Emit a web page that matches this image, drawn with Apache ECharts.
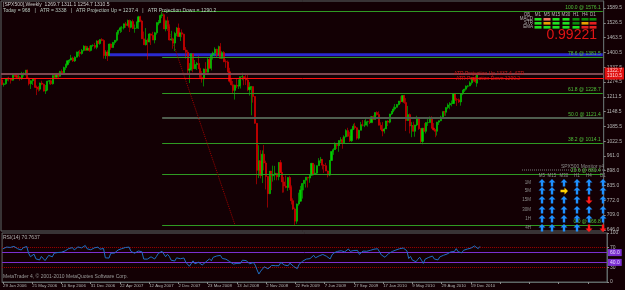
<!DOCTYPE html>
<html><head><meta charset="utf-8">
<script src="https://cdn.jsdelivr.net/npm/echarts@6/dist/echarts.min.js"></script>
<style>html,body{margin:0;padding:0;background:#130004;}#c{width:625px;height:290px;}</style>
</head><body><div id="c"></div><script>
// weekly bars [open, high, low, close]
const ohlc2006 = [[1283.7,1287,1261,1264],[1264,1272,1255,1267],[1267,1289,1263,1287],[1287,1293,1280,1290],[1290,1297,1277,1287],[1287,1289,1268,1282],[1282,1310,1280,1307],[1307,1310,1295,1302],[1302,1307,1291,1295],[1295,1310,1292,1295],[1295,1300,1280,1289],[1289,1318,1284,1311],[1311,1316,1298,1311],[1311,1326,1302,1325],[1325,1327,1291,1291],[1291,1294,1260,1267],[1267,1282,1245,1280],[1280,1290,1262,1288],[1288,1290,1250,1253],[1253,1260,1219,1251],[1251,1258,1234,1244],[1244,1272,1237,1270],[1270,1280,1261,1265],[1265,1268,1234,1236],[1236,1262,1224,1240],[1240,1280,1239,1278],[1278,1283,1265,1280],[1280,1285,1262,1267],[1267,1303,1264,1302],[1302,1306,1290,1295],[1295,1312,1294,1311],[1311,1314,1292,1299],[1299,1322,1297,1319],[1319,1328,1307,1314],[1314,1340,1314,1336],[1336,1353,1326,1349],[1349,1366,1344,1365],[1365,1372,1356,1368],[1368,1390,1366,1377],[1377,1382,1360,1364],[1364,1384,1360,1380],[1380,1404,1379,1401],[1401,1407,1384,1401],[1401,1411,1380,1396],[1396,1415,1391,1409],[1409,1431,1405,1427],[1427,1429,1407,1410],[1410,1427,1409,1418]];
const ohlc2007 = [[1418,1429,1403,1409],[1409,1431,1405,1430],[1430,1435,1424,1430],[1430,1441,1416,1422],[1422,1452,1414,1449],[1449,1453,1437,1438],[1438,1456,1433,1455],[1455,1461,1448,1451],[1451,1456,1374,1387],[1387,1410,1373,1402],[1402,1410,1364,1386],[1386,1438,1386,1436],[1436,1438,1412,1421],[1421,1445,1420,1443],[1443,1453,1433,1452],[1452,1485,1446,1485],[1485,1498,1476,1494],[1494,1510,1483,1505],[1505,1513,1487,1505],[1505,1523,1498,1522],[1522,1530,1505,1515],[1515,1540,1512,1536],[1536,1540,1487,1507],[1507,1538,1503,1532],[1532,1540,1500,1502],[1502,1519,1484,1503],[1503,1532,1503,1530],[1530,1556,1500,1552],[1552,1556,1529,1534],[1534,1539,1458,1458],[1458,1489,1432,1433],[1433,1504,1430,1453],[1453,1460,1370,1445],[1445,1482,1443,1479],[1479,1481,1432,1473],[1473,1488,1453,1453],[1453,1488,1439,1484],[1484,1530,1476,1525],[1525,1538,1516,1527],[1527,1561,1527,1557],[1557,1576,1546,1561],[1561,1563,1500,1500],[1500,1536,1490,1535],[1535,1552,1492,1509],[1509,1520,1451,1453],[1453,1492,1450,1458],[1458,1463,1416,1440],[1440,1488,1406,1481],[1481,1508,1469,1504],[1504,1523,1467,1468],[1468,1485,1449,1484],[1484,1498,1465,1478]];
const ohlc2008 = [[1478,1480,1411,1411],[1411,1423,1374,1401],[1401,1410,1312,1325],[1325,1355,1270,1330],[1330,1396,1322,1395],[1395,1395,1316,1331],[1331,1368,1330,1349],[1349,1360,1326,1353],[1353,1388,1330,1331],[1331,1335,1287,1294],[1294,1321,1272,1288],[1288,1332,1256,1330],[1330,1359,1312,1316],[1316,1381,1315,1370],[1370,1380,1332,1333],[1333,1395,1324,1390],[1390,1404,1370,1398],[1398,1422,1384,1414],[1414,1416,1381,1388],[1388,1429,1388,1425],[1425,1440,1373,1375],[1375,1406,1373,1400],[1400,1406,1359,1361],[1361,1371,1335,1360],[1360,1366,1316,1318],[1318,1335,1272,1278],[1278,1291,1260,1263],[1263,1279,1225,1239],[1239,1263,1200,1261],[1261,1290,1248,1257],[1257,1285,1245,1260],[1260,1297,1247,1297],[1297,1314,1282,1298],[1298,1298,1261,1292],[1292,1304,1262,1283],[1283,1304,1235,1242],[1242,1274,1217,1252],[1252,1256,1133,1255],[1255,1256,1187,1213],[1213,1215,1097,1099],[1099,1099,840,899],[899,1006,866,940],[940,985,865,877],[877,984,845,968],[968,1007,899,930],[930,940,818,873],[873,875,741,800],[800,896,798,896],[896,896,815,876],[876,919,851,879],[879,918,857,887],[887,887,857,872]];
const ohlc2009 = [[872,934,857,932],[932,943,888,890],[890,890,804,850],[850,871,805,832],[832,877,823,826],[826,870,812,869],[869,876,816,826],[826,835,754,770],[770,780,731,735],[735,741,667,683],[683,758,672,756],[756,804,749,768],[768,833,766,816],[816,845,779,843],[843,856,814,857],[857,870,826,870],[870,870,826,866],[866,880,846,878],[878,930,876,929],[929,930,878,883],[883,924,881,887],[887,920,880,919],[919,951,918,940],[940,956,930,946],[946,947,903,921],[921,925,888,919],[919,931,896,896],[896,898,869,879],[879,943,875,941],[941,979,940,979],[979,993,965,987],[987,1018,986,1010],[1010,1013,990,1004],[1004,1027,978,1026],[1026,1040,1016,1029],[1029,1039,991,1016],[1016,1048,1017,1042],[1042,1074,1039,1068],[1068,1080,1041,1044],[1044,1063,1020,1025],[1025,1076,1020,1072],[1072,1097,1071,1087],[1087,1101,1073,1080],[1080,1082,1029,1036],[1036,1072,1030,1069],[1069,1105,1069,1093],[1093,1113,1086,1091],[1091,1112,1083,1091],[1091,1119,1091,1106],[1106,1110,1085,1106],[1106,1119,1096,1102],[1102,1130,1102,1127],[1127,1133,1115,1115]];
const ohlc2010 = [[1115,1145,1115,1145],[1145,1150,1132,1136],[1136,1150,1090,1091],[1091,1103,1071,1074],[1074,1104,1044,1066],[1066,1080,1056,1075],[1075,1110,1075,1109],[1109,1112,1087,1104],[1104,1139,1099,1139],[1139,1151,1134,1150],[1150,1170,1146,1160],[1160,1181,1153,1167],[1167,1181,1165,1179],[1179,1194,1175,1194],[1194,1214,1183,1192],[1192,1218,1188,1217],[1217,1220,1182,1187],[1187,1206,1066,1111],[1111,1173,1110,1136],[1136,1141,1056,1088],[1088,1104,1040,1089],[1089,1106,1064,1065],[1065,1093,1042,1092],[1092,1131,1087,1117],[1117,1119,1071,1076],[1076,1079,1011,1022],[1022,1079,1010,1078],[1078,1100,1063,1065],[1065,1103,1056,1102],[1102,1120,1088,1102],[1102,1128,1102,1121],[1121,1129,1076,1079],[1079,1100,1069,1071],[1071,1075,1040,1065],[1065,1105,1047,1104],[1104,1111,1092,1110],[1110,1131,1108,1126],[1126,1149,1121,1149],[1149,1150,1131,1146],[1146,1167,1131,1166],[1166,1184,1159,1177],[1177,1189,1159,1183],[1183,1196,1171,1183],[1183,1227,1181,1226],[1226,1228,1194,1200],[1200,1207,1173,1199],[1199,1205,1185,1190],[1190,1225,1174,1225],[1225,1241,1219,1240],[1240,1246,1232,1244],[1244,1260,1238,1257],[1257,1262,1251,1258]];
const ohlc2011 = [[1258,1278,1257,1271],[1271,1294,1263,1293],[1293,1296,1276,1283],[1283,1302,1270,1276],[1269.7,1311.1,1254.7,1310.5]];
// closes of the weeks before the first visible bar (RSI warm-up)
const priorCloses = [1179.6,1198.4,1220.1,1234.7,1248.3,1268.3,1265.1,1259.4,1267.3,1259.9,1248.3,1285.5,1287.6,1261.5,1283.7];

const dateTicks = ['29 Jan 2006','21 May 2006','10 Sep 2006','31 Dec 2006','22 Apr 2007','12 Aug 2007','2 Dec 2007','23 Mar 2008','13 Jul 2008','2 Nov 2008','22 Feb 2009','7 Jun 2009','27 Sep 2009','17 Jan 2010','9 May 2010','29 Aug 2010','19 Dec 2010'];
const priceTicks = [646.0,709.0,772.0,835.0,898.0,961.0,1022.5,1085.5,1148.5,1211.5,1274.5,1337.5,1400.5,1463.5,1526.5,1589.5];
const fibLevels = [['100.0',1576.1],['78.6',1381.5],['61.8',1228.7],['50.0',1121.4],['38.2',1014.1],['23.6',881.4],['0.0',666.8]];
const fibStartBar = 88, fibLineEndBar = 128;
const bandLow = 1384, bandHigh = 1397, bandStartBar = 59;
const bidPrice = 1310.5, atrDown = 1290.2;
const rsiLevelsDotted = [70, 30];
const rsiLevelsPurple = [60, 40];
const rsiTicks = [0, 30, 70, 100];

const bars = [].concat(ohlc2006, ohlc2007, ohlc2008, ohlc2009, ohlc2010, ohlc2011);
const totalSlots = 331;
const cats = Array.from({length: totalSlots}, (_, i) => String(i));
const candleData = bars.map(b => [b[0], b[3], b[2], b[1]]);
const closes = bars.map(b => b[3]);

// RSI(14), Wilder
function rsi(series, period) {
  const out = [];
  let ag = 0, al = 0;
  for (let i = 1; i <= period; i++) { const d = series[i] - series[i-1]; if (d > 0) ag += d; else al -= d; }
  ag /= period; al /= period;
  out[period] = al === 0 ? 100 : 100 - 100 / (1 + ag / al);
  for (let i = period + 1; i < series.length; i++) {
    const d = series[i] - series[i-1];
    ag = (ag * (period - 1) + Math.max(d, 0)) / period;
    al = (al * (period - 1) + Math.max(-d, 0)) / period;
    out[i] = al === 0 ? 100 : 100 - 100 / (1 + ag / al);
  }
  return out;
}
const allCloses = priorCloses.concat(closes);
const rsiAll = rsi(allCloses, 14);
const rsiData = closes.map((_, i) => { const v = rsiAll[i + priorCloses.length]; return v == null ? null : +v.toFixed(2); });

const FONT = 'Liberation Sans';
const gray = '#b4b4b4';
const green = '#2f9a22';

const fibMarks = fibLevels.map(([p, v]) => [
  {coord: [fibStartBar, v], lineStyle: {color: p === '50.0' ? '#4f5d4f' : green, width: p === '50.0' ? 2 : 1, type: 'solid'},
   label: {show: true, formatter: p + ' @ ' + v.toFixed(1), position: 'insideEndTop', color: '#4fc03a', fontSize: 5, fontFamily: FONT, distance: [2, 1]}},
  {coord: [totalSlots - 1, v]}
]);

const table1Cols = ['M1','M5','M15','M30','H1','H4','D1'];
const table1Rows = ['MACD','STR','EMA'];
const table1Colors = [
  ['#20e020','#f07860','#20e020','#20e020','#0a8a0a','#0a8a0a','#0a8a0a'],
  ['#20e020','#e8a000','#20e020','#20e020','#0a8a0a','#e8a000','#e02020'],
  ['#20e020','#20e020','#20e020','#20e020','#20e020','#e02020','#e02020']];
const t2Cols = ['M5','M15','M30','H1','H4','D1'];
const t2Rows = ['1M','5M','15M','30M','1H','4H'];
const t2Dirs = [
  ['u','u','u','u','u','u'],
  ['u','u','r','u','u','u'],
  ['u','u','u','u','d','u'],
  ['u','u','u','u','u','u'],
  ['u','u','u','u','u','u'],
  ['u','u','u','u','d','d']];

const graphics = [];
function txt(x, y, s, color, size, align, weight) {
  graphics.push({type: 'text', x, y, style: {text: s, fill: color, font: (weight||'normal') + ' ' + size + 'px "' + FONT + '"', textAlign: align || 'left', textVerticalAlign: 'middle'}, z: 20});
}
txt(3, 5, '[SPX500],Weekly  1269.7 1311.1 1254.7 1310.5', '#cfcfcf', 5);
txt(3, 11, 'Today = 968   |   ATR = 3338   |   ATR Projection Up = 1237.4   |   ATR Projection Down = 1290.2', '#b9c9c0', 5);
const t1x = [538,547,556,566,576,585,593];
txt(527, 15, 'ОБ', gray, 4.5, 'center');
table1Cols.forEach((c, i) => txt(t1x[i], 15, c, gray, 4.5, 'center'));
table1Rows.forEach((r, j) => {
  txt(533, 19 + j*4, r, gray, 4.5, 'right');
  table1Colors[j].forEach((col, i) => graphics.push({type: 'rect', shape: {x: t1x[i]-3.5, y: 18 + j*4, width: 7, height: 2.6}, style: {fill: col}, z: 20}));
});
txt(597, 35, '0.99221', '#e01414', 14, 'right');
txt(604, 167, 'SPX500 Monitor v4', '#8c8c8c', 5, 'right');
graphics.push({type: 'line', shape: {x1: 522, y1: 170, x2: 606, y2: 170}, style: {stroke: '#7a7a7a', lineWidth: 1, lineDash: [1, 1]}, z: 20});
const t2x = [542,552,564,577,589,603], t2y = [183,191,200,210,219,228];
t2Cols.forEach((c, i) => txt(t2x[i], 176, c, '#8c8c8c', 4.5, 'center'));
t2Rows.forEach((r, j) => txt(531, t2y[j], r, '#8c8c8c', 4.5, 'right'));
function arrow(cx, cy, dir) {
  const col = dir === 'u' ? '#1e90ff' : dir === 'd' ? '#ff1a1a' : '#ffd000';
  let pts = [[0,-4],[3.5,-0.5],[1.2,-0.5],[1.2,3.5],[-1.2,3.5],[-1.2,-0.5],[-3.5,-0.5]];
  if (dir === 'd') pts = pts.map(p => [p[0], -p[1]]);
  if (dir === 'r') pts = pts.map(p => [-p[1], p[0]]);
  graphics.push({type: 'polygon', shape: {points: pts.map(p => [cx + p[0], cy + p[1]])}, style: {fill: col}, z: 20});
}
t2Dirs.forEach((row, j) => row.forEach((d, i) => arrow(t2x[i], t2y[j], d)));
txt(454, 74, 'ATR Projection Up 1337.4  ATR', '#d01818', 5);
txt(456, 79, 'ATR Projection Down 1290.2', '#d01818', 5);
txt(3, 238, 'RSI(14) 70.7637', gray, 5);
txt(3, 277, 'MetaTrader 4, © 2001-2010 MetaQuotes Software Corp.', '#9a9a9a', 5);

const chart = echarts.init(document.getElementById('c'), null, {renderer: 'canvas'});
chart.setOption({
  backgroundColor: '#130004',
  animation: false,
  textStyle: {fontFamily: FONT},
  grid: [
    {left: 1, top: 1, width: 606, height: 230, show: true, borderColor: '#5f6767', borderWidth: 1, backgroundColor: 'transparent'},
    {left: 1, top: 233, width: 606, height: 49, show: true, borderColor: '#5f6767', borderWidth: 1, backgroundColor: 'transparent'}
  ],
  xAxis: [
    {type: 'category', gridIndex: 0, data: cats, boundaryGap: true, axisLine: {show: false}, axisTick: {show: false}, axisLabel: {show: false}, splitLine: {show: false}},
    {type: 'category', gridIndex: 1, data: cats, boundaryGap: true, axisLine: {show: true, lineStyle: {color: '#5f6767'}},
      axisTick: {show: true, interval: 15, length: 2, alignWithLabel: true, lineStyle: {color: '#8a8a8a'}},
      axisLabel: {show: true, interval: 15, showMinLabel: true, color: gray, fontSize: 4.3, fontFamily: FONT, align: 'left', margin: 2,
        formatter: (v, i) => (i % 16 === 0 && dateTicks[i/16]) ? dateTicks[i/16] : ''},
      splitLine: {show: false}}
  ],
  yAxis: [
    {type: 'value', gridIndex: 0, position: 'right', min: 641.2, max: 1619.0, splitLine: {show: false},
      axisLine: {show: true, lineStyle: {color: '#5f6767'}},
      axisTick: {show: true, length: 2, customValues: priceTicks, lineStyle: {color: '#8a8a8a'}},
      axisLabel: {show: true, customValues: priceTicks, color: gray, fontSize: 5, fontFamily: FONT, margin: 3, formatter: v => v.toFixed(1)}},
    {type: 'value', gridIndex: 1, position: 'right', min: 0, max: 100, splitLine: {show: false},
      axisLine: {show: true, lineStyle: {color: '#5f6767'}},
      axisTick: {show: true, length: 2, customValues: rsiTicks, lineStyle: {color: '#8a8a8a'}},
      axisLabel: {show: true, customValues: rsiTicks, color: gray, fontSize: 5, fontFamily: FONT, margin: 3}}
  ],
  series: [
    {type: 'candlestick', xAxisIndex: 0, yAxisIndex: 0, data: candleData, barWidth: 1.6,
      itemStyle: {color: '#00d000', color0: '#e00000', borderColor: '#00d000', borderColor0: '#e00000', borderWidth: 0.6},
      markArea: {silent: true, itemStyle: {color: '#2a2ad0'}, data: [[{coord: [bandStartBar, bandHigh]}, {coord: [totalSlots - 1, bandLow]}]]},
      markLine: {silent: true, symbol: ['none','none'], animation: false,
        data: fibMarks.concat([
          [{coord: [fibStartBar, fibLevels[0][1]], lineStyle: {color: '#a00000', type: 'dotted', width: 1}, label: {show: false}}, {coord: [fibLineEndBar, fibLevels[fibLevels.length-1][1]]}],
          {yAxis: bidPrice, lineStyle: {color: '#7d4850', width: 2, type: 'solid'}, label: {show: true, position: 'end', formatter: '1322.7\n' + bidPrice.toFixed(1), color: '#ffd0d0', backgroundColor: '#e01010', fontSize: 5, fontFamily: FONT, lineHeight: 5, padding: [1,2], distance: 1}},
          {yAxis: atrDown, lineStyle: {color: '#ff1010', width: 1, type: 'solid'}, label: {show: false}}
        ])}
    },
    {type: 'line', xAxisIndex: 1, yAxisIndex: 1, data: rsiData, showSymbol: false, lineStyle: {color: '#1f6fc4', width: 1}, z: 5,
      markLine: {silent: true, symbol: ['none','none'],
        data: rsiLevelsDotted.map(v => ({yAxis: v, lineStyle: {color: '#a00000', type: 'dotted', width: 1}, label: {show: false}}))
          .concat(rsiLevelsPurple.map(v => ({yAxis: v, lineStyle: {color: '#7b2fd0', type: 'solid', width: 1}, label: {show: true, position: 'end', formatter: v.toFixed(1), color: '#e8d8ff', backgroundColor: '#7b2fd0', fontSize: 5, fontFamily: FONT, padding: [1,2], distance: 1}})))}
    }
  ],
  graphic: graphics
});
</script></body></html>
